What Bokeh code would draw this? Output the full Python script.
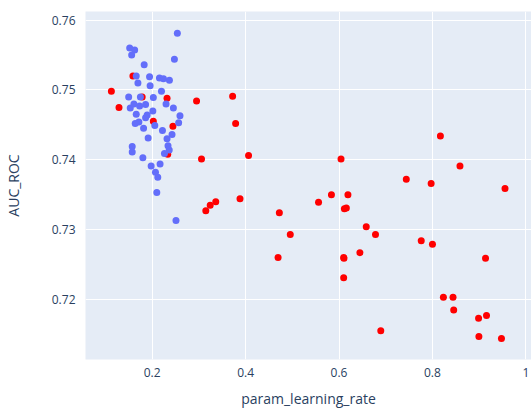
from bokeh.plotting import figure
from bokeh.models import FixedTicker, Range1d
from bokeh.embed import file_html
from bokeh.resources import INLINE

# Red series (param_learning_rate, AUC_ROC)
red_x = [0.1128, 0.1291, 0.1589, 0.1787, 0.2319, 0.2951, 0.2026, 0.2445, 0.2334, 0.3057,
         0.3723, 0.3787, 0.4064, 0.3149, 0.3243, 0.3362, 0.3881, 0.4723, 0.4957, 0.4696,
         0.5562, 0.5838, 0.6043, 0.6191, 0.6115, 0.6157, 0.6583, 0.6447, 0.6100, 0.6106,
         0.6100, 0.8170, 0.8589, 0.7440, 0.7972, 0.9553, 0.6781, 0.7760, 0.8000, 0.9136,
         0.8234, 0.8440, 0.8455, 0.8987, 0.9157, 0.6894, 0.8994, 0.9477]
red_y = [0.7498, 0.7475, 0.7520, 0.7490, 0.7488, 0.7484, 0.7455, 0.7448, 0.7408, 0.7401,
         0.7491, 0.7452, 0.7406, 0.7327, 0.7335, 0.7340, 0.7344, 0.7324, 0.7293, 0.7260,
         0.7339, 0.7350, 0.7401, 0.7350, 0.7330, 0.7331, 0.7304, 0.7267, 0.7260, 0.7259,
         0.7231, 0.7434, 0.7391, 0.7372, 0.7366, 0.7359, 0.7293, 0.7284, 0.7279, 0.7259,
         0.7203, 0.7203, 0.7185, 0.7173, 0.7177, 0.7155, 0.7147, 0.7144]

# Blue series
blue_x = [0.2540, 0.1520, 0.1626, 0.1562, 0.2477, 0.1830, 0.1660, 0.1945, 0.2157, 0.2243,
          0.2370, 0.1696, 0.1957, 0.2200, 0.1498, 0.1749, 0.2026, 0.1532, 0.1610, 0.1732,
          0.1860, 0.2298, 0.2455, 0.2015, 0.1660, 0.1894, 0.1860, 0.2596, 0.2568, 0.1717,
          0.1638, 0.2057, 0.1817, 0.2221, 0.2426, 0.2319, 0.1915, 0.2340, 0.1574, 0.1574,
          0.2366, 0.2264, 0.1802, 0.1979, 0.2170, 0.2072, 0.2121, 0.2100, 0.2511]
blue_y = [0.7581, 0.7560, 0.7557, 0.7550, 0.7544, 0.7536, 0.7520, 0.7519, 0.7517, 0.7516,
          0.7514, 0.7510, 0.7506, 0.7498, 0.7490, 0.7490, 0.7489, 0.7474, 0.7480, 0.7477,
          0.7479, 0.7480, 0.7474, 0.7470, 0.7465, 0.7464, 0.7460, 0.7463, 0.7453, 0.7454,
          0.7452, 0.7449, 0.7445, 0.7442, 0.7436, 0.7430, 0.7431, 0.7420, 0.7419, 0.7411,
          0.7414, 0.7409, 0.7403, 0.7391, 0.7394, 0.7382, 0.7375, 0.7353, 0.7313]

x_ticks = [0.2, 0.4, 0.6, 0.8, 1.0]
x_tick_labels = ["0.2", "0.4", "0.6", "0.8", "1"]
y_ticks = [0.72, 0.73, 0.74, 0.75, 0.76]
y_tick_labels = ["0.72", "0.73", "0.74", "0.75", "0.76"]

FONT = "Open Sans"
TXT = "#2a3f5f"

p = figure(width=531, height=411, output_backend="svg", toolbar_location=None,
           x_range=Range1d(0.0574, 1.012), y_range=Range1d(0.7114, 0.76123),
           min_border_left=82, min_border_right=0, min_border_top=11, min_border_bottom=52)

p.background_fill_color = "#e5ecf6"
p.border_fill_color = "white"
p.outline_line_color = None

p.scatter(red_x, red_y, size=7, color="#ff0000", line_color=None)
p.scatter(blue_x, blue_y, size=7, color="#636efa", line_color=None)

for ax in (p.xaxis, p.yaxis):
    ax.axis_line_color = None
    ax.major_tick_line_color = None
    ax.minor_tick_line_color = None
    ax.major_label_text_font = FONT
    ax.major_label_text_font_size = "12px"
    ax.major_label_text_color = TXT
    ax.axis_label_text_font = FONT
    ax.axis_label_text_font_size = "14px"
    ax.axis_label_text_font_style = "normal"
    ax.axis_label_text_color = TXT

p.xaxis.ticker = FixedTicker(ticks=x_ticks)
p.xaxis.major_label_overrides = {t: l for t, l in zip(x_ticks, x_tick_labels)}
p.yaxis.ticker = FixedTicker(ticks=y_ticks)
p.yaxis.major_label_overrides = {t: l for t, l in zip(y_ticks, y_tick_labels)}

p.xaxis.axis_label = "param_learning_rate"
p.yaxis.axis_label = "AUC_ROC"
p.xaxis.major_label_standoff = 2
p.xaxis.axis_label_standoff = 9
p.yaxis.major_label_standoff = 4
p.yaxis.axis_label_standoff = 26

p.xgrid.grid_line_color = "white"
p.ygrid.grid_line_color = "white"
p.xgrid.grid_line_width = 1
p.ygrid.grid_line_width = 1

open("out.html", "w").write(file_html(p, INLINE))
